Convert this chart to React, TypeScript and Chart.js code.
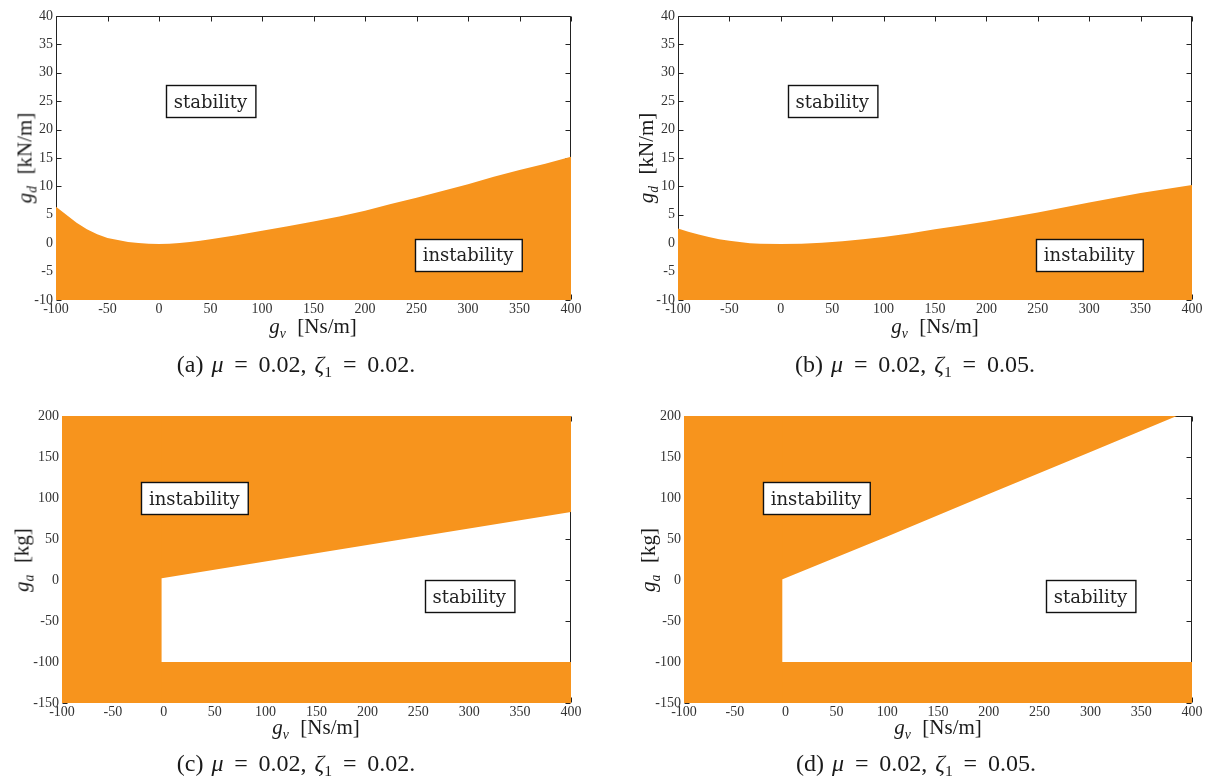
import React, { useEffect, useRef } from 'react';
import { Chart, registerables } from 'chart.js';

Chart.register(...registerables);

const ORANGE = '#F7941D';

// ---- tick labels ----
const gvTicks = [-100, -50, 0, 50, 100, 150, 200, 250, 300, 350, 400];
const gdTicks = [-10, -5, 0, 5, 10, 15, 20, 25, 30, 35, 40];
const gaTicks = [-150, -100, -50, 0, 50, 100, 150, 200];

// ---- (a) stability boundary g_d(g_v), mu = 0.02, zeta1 = 0.02 ----
const gvA = [-100, -90, -80, -70, -60, -50, -40, -30, -20, -10, 0, 10, 20, 30, 40, 50, 75, 100, 125, 150, 175, 200, 225, 250, 275, 300, 325, 350, 375, 400];
const gdA = [6.4, 5.0, 3.6, 2.45, 1.56, 0.9, 0.55, 0.2, 0.03, -0.1, -0.15, -0.1, 0.05, 0.2, 0.45, 0.7, 1.4, 2.2, 3.0, 3.8, 4.7, 5.7, 6.9, 8.0, 9.2, 10.4, 11.7, 12.9, 14.0, 15.2];

// ---- (b) stability boundary g_d(g_v), mu = 0.02, zeta1 = 0.05 ----
const gvB = [-100, -90, -80, -70, -60, -50, -40, -30, -20, 0, 20, 40, 60, 80, 100, 125, 150, 175, 200, 225, 250, 275, 300, 325, 350, 375, 400];
const gdB = [2.6, 2.0, 1.55, 1.1, 0.7, 0.45, 0.2, 0.0, -0.1, -0.15, -0.1, 0.1, 0.35, 0.7, 1.1, 1.7, 2.45, 3.1, 3.8, 4.6, 5.4, 6.3, 7.15, 8.0, 8.85, 9.55, 10.25];

// ---- (c) g_a(g_v), mu = 0.02, zeta1 = 0.02 ----
const gvStripC = [-100, -2];
const gaStripC = [200, 200];
const gvUpperC = [-4, -2, 400];
const gaUpperC = [2, 2, 83];
const gvLowerC = [-4, 400];
const gaLowerC = [-100, -100];

// ---- (d) g_a(g_v), mu = 0.02, zeta1 = 0.05 ----
const gvStripD = [-100, -3];
const gaStripD = [200, 200];
const gvUpperD = [-4, -3, 100, 200, 300, 385, 400];
const gaUpperD = [1, 1, 53, 105, 156, 200, 200];
const gvLowerD = [-4, 400];
const gaLowerD = [-100, -100];

type Region = { xs: number[]; ys: number[]; fill: 'start' | 'end' };
type Label = { text: string; x: number; y: number };

type Spec = {
  left: number; top: number; width: number; height: number;
  padTop: number; padRight: number;
  yMin: number; yMax: number; yTicks: number[];
  regions: Region[];
  labels: Label[];
};

const framePlugin = {
  id: 'matlabFrame',
  beforeDatasetsDraw(chart: any) {
    const { ctx, chartArea: a, scales } = chart;
    const xs = scales.x, ys = scales.y;
    ctx.save();
    ctx.strokeStyle = '#222';
    ctx.lineWidth = 1;
    const L = Math.round(a.left) + 0.5;
    const R = Math.round(a.right) - 0.5;
    const T = Math.round(a.top) + 0.5;
    const B = Math.round(a.bottom) - 0.5;
    ctx.beginPath();
    ctx.rect(L, T, R - L, B - T);
    const tl = 5;
    for (const v of gvTicks) {
      const px = Math.round(xs.getPixelForValue(v)) + 0.5;
      ctx.moveTo(px, T); ctx.lineTo(px, T + tl);
      ctx.moveTo(px, B); ctx.lineTo(px, B - tl);
    }
    for (const t of ys.ticks) {
      const py = Math.round(ys.getPixelForValue(t.value)) + 0.5;
      ctx.moveTo(L, py); ctx.lineTo(L + tl, py);
      ctx.moveTo(R, py); ctx.lineTo(R - tl, py);
    }
    ctx.stroke();
    ctx.restore();
  },
};

const labelPlugin = {
  id: 'regionLabels',
  afterDatasetsDraw(chart: any, _args: any, opts: any) {
    const { ctx, scales } = chart;
    const items: Label[] = (opts && opts.items) || [];
    ctx.save();
    ctx.font = '18px "DejaVu Serif"';
    for (const it of items) {
      const cx = scales.x.getPixelForValue(it.x);
      const cy = scales.y.getPixelForValue(it.y);
      const w = ctx.measureText(it.text).width + 16;
      const h = 32;
      const x0 = Math.round(cx - w / 2) + 0.5;
      const y0 = Math.round(cy - h / 2) + 0.5;
      ctx.fillStyle = '#fff';
      ctx.fillRect(x0, y0, w, h);
      ctx.lineWidth = 1.4;
      ctx.strokeStyle = '#111';
      ctx.strokeRect(x0, y0, w, h);
      ctx.fillStyle = '#222';
      ctx.textAlign = 'center';
      ctx.textBaseline = 'alphabetic';
      ctx.fillText(it.text, cx, cy + 6.5);
    }
    ctx.restore();
  },
};

function StabilityChart({ spec }: { spec: Spec }) {
  const ref = useRef<HTMLCanvasElement | null>(null);
  useEffect(() => {
    if (!ref.current) return;
    const tickFont = { family: '"Liberation Serif", serif', size: 14 };
    const chart = new Chart(ref.current, {
      type: 'line',
      data: {
        datasets: spec.regions.map((r) => ({
          data: r.xs.map((x, i) => ({ x, y: r.ys[i] })),
          fill: r.fill,
          backgroundColor: ORANGE,
          borderWidth: 0,
          pointRadius: 0,
          tension: 0,
        })),
      },
      options: {
        animation: false,
        responsive: false,
        events: [],
        layout: { padding: { top: spec.padTop, right: spec.padRight, left: 0, bottom: 0 } },
        plugins: {
          legend: { display: false },
          tooltip: { enabled: false },
          regionLabels: { items: spec.labels },
        } as any,
        scales: {
          x: {
            type: 'linear',
            min: -100,
            max: 400,
            grid: { display: false, drawTicks: false },
            border: { display: false },
            ticks: { font: tickFont, color: '#333', padding: 1, autoSkip: false, maxRotation: 0 },
            afterBuildTicks: (s: any) => { s.ticks = gvTicks.map((v) => ({ value: v })); },
            afterFit: (s: any) => { s.height = 22; },
          },
          y: {
            type: 'linear',
            min: spec.yMin,
            max: spec.yMax,
            grid: { display: false, drawTicks: false },
            border: { display: false },
            ticks: { font: tickFont, color: '#333', padding: 3, autoSkip: false },
            afterBuildTicks: (s: any) => { s.ticks = spec.yTicks.map((v) => ({ value: v })); },
            afterFit: (s: any) => { s.width = 56; },
          },
        },
      },
      plugins: [framePlugin, labelPlugin],
    } as any);
    return () => chart.destroy();
  }, [spec]);
  return (
    <canvas
      ref={ref}
      width={spec.width}
      height={spec.height}
      style={{ position: 'absolute', left: spec.left, top: spec.top, width: spec.width, height: spec.height }}
    />
  );
}

const specA: Spec = {
  left: 0, top: 0, width: 589, height: 322, padTop: 16, padRight: 18,
  yMin: -10, yMax: 40, yTicks: gdTicks,
  regions: [{ xs: gvA, ys: gdA, fill: 'start' }],
  labels: [{ text: 'stability', x: 50, y: 25 }, { text: 'instability', x: 300, y: -2 }],
};
const specB: Spec = {
  left: 622, top: 0, width: 588, height: 322, padTop: 16, padRight: 18,
  yMin: -10, yMax: 40, yTicks: gdTicks,
  regions: [{ xs: gvB, ys: gdB, fill: 'start' }],
  labels: [{ text: 'stability', x: 50, y: 25 }, { text: 'instability', x: 300, y: -2 }],
};
const specC: Spec = {
  left: 6, top: 400, width: 583, height: 325, padTop: 16, padRight: 18,
  yMin: -150, yMax: 200, yTicks: gaTicks,
  regions: [
    { xs: gvStripC, ys: gaStripC, fill: 'start' },
    { xs: gvUpperC, ys: gaUpperC, fill: 'end' },
    { xs: gvLowerC, ys: gaLowerC, fill: 'start' },
  ],
  labels: [{ text: 'instability', x: 30, y: 100 }, { text: 'stability', x: 300, y: -20 }],
};
const specD: Spec = {
  left: 628, top: 400, width: 582, height: 325, padTop: 16, padRight: 18,
  yMin: -150, yMax: 200, yTicks: gaTicks,
  regions: [
    { xs: gvStripD, ys: gaStripD, fill: 'start' },
    { xs: gvUpperD, ys: gaUpperD, fill: 'end' },
    { xs: gvLowerD, ys: gaLowerD, fill: 'start' },
  ],
  labels: [{ text: 'instability', x: 30, y: 100 }, { text: 'stability', x: 300, y: -20 }],
};

const sub: React.CSSProperties = { fontSize: '0.65em', fontStyle: 'italic', position: 'relative', top: '0.35em' };

function XTitle({ cx, cy }: { cx: number; cy: number }) {
  return (
    <div style={{ position: 'absolute', left: cx, top: cy, transform: 'translate(-50%, -50%)', whiteSpace: 'nowrap', fontSize: 21, lineHeight: 1 }}>
      <i>g</i><span style={sub}>v</span><span style={{ marginLeft: '0.55em' }}>[Ns/m]</span>
    </div>
  );
}

function YTitle({ cx, cy, s, unit }: { cx: number; cy: number; s: string; unit: string }) {
  return (
    <div style={{ position: 'absolute', left: cx, top: cy, transform: 'translate(-50%, -50%) rotate(-90deg)', whiteSpace: 'nowrap', fontSize: 21, lineHeight: 1 }}>
      <i>g</i><span style={sub}>{s}</span><span style={{ marginLeft: '0.55em' }}>{unit}</span>
    </div>
  );
}

function Caption({ cx, cy, tag, zeta }: { cx: number; cy: number; tag: string; zeta: string }) {
  const eq: React.CSSProperties = { margin: '0 0.45em' };
  return (
    <div style={{ position: 'absolute', left: cx, top: cy, transform: 'translate(-50%, -50%)', whiteSpace: 'nowrap', fontSize: 24, lineHeight: 1, wordSpacing: 2 }}>
      ({tag}) <i>μ</i><span style={eq}>=</span>0.02, <i>ζ</i><span style={{ fontSize: '0.65em', position: 'relative', top: '0.3em' }}>1</span><span style={eq}>=</span>{zeta}.
    </div>
  );
}

export default function App() {
  useEffect(() => {
    document.body.style.margin = '0';
  }, []);
  return (
    <div style={{ position: 'relative', width: 1212, height: 778, background: '#fff', overflow: 'hidden', fontFamily: '"Liberation Serif", serif', color: '#1a1a1a' }}>
      <StabilityChart spec={specA} />
      <StabilityChart spec={specB} />
      <StabilityChart spec={specC} />
      <StabilityChart spec={specD} />
      <XTitle cx={313} cy={326} />
      <XTitle cx={935} cy={326} />
      <XTitle cx={316} cy={727} />
      <XTitle cx={938} cy={727} />
      <YTitle cx={25} cy={158} s="d" unit="[kN/m]" />
      <YTitle cx={646} cy={158} s="d" unit="[kN/m]" />
      <YTitle cx={22} cy={560} s="a" unit="[kg]" />
      <YTitle cx={648} cy={560} s="a" unit="[kg]" />
      <Caption cx={296} cy={364} tag="a" zeta="0.02" />
      <Caption cx={915} cy={364} tag="b" zeta="0.05" />
      <Caption cx={296} cy={763} tag="c" zeta="0.02" />
      <Caption cx={916} cy={763} tag="d" zeta="0.05" />
    </div>
  );
}
